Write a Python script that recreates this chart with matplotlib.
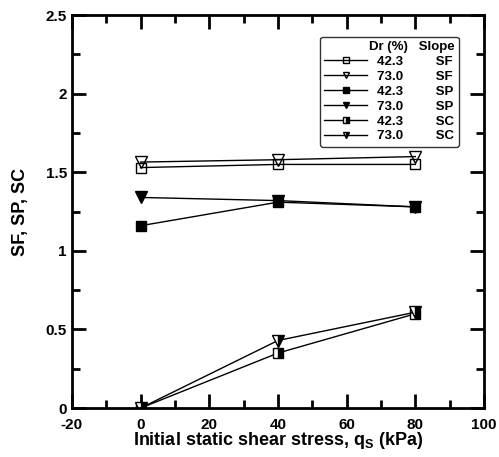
import matplotlib.pyplot as plt
from matplotlib.ticker import MultipleLocator

plt.rcParams['font.family'] = ['Liberation Sans', 'DejaVu Sans']
plt.rcParams['font.weight'] = 'bold'
plt.rcParams['axes.unicode_minus'] = False
plt.rcParams['mathtext.fontset'] = 'custom'
plt.rcParams['mathtext.rm'] = 'Liberation Sans:bold'
plt.rcParams['mathtext.bf'] = 'Liberation Sans:bold'

qs = [0, 40, 80]
dr = ['42.3', '73.0', '42.3', '73.0', '42.3', '73.0']
slope = ['SF', 'SF', 'SP', 'SP', 'SC', 'SC']
sf_423 = [1.53, 1.55, 1.55]
sf_730 = [1.565, 1.58, 1.60]
sp_423 = [1.16, 1.31, 1.28]
sp_730 = [1.34, 1.32, 1.28]
sc_423 = [0.0, 0.35, 0.60]
sc_730 = [0.0, 0.43, 0.61]

series = [sf_423, sf_730, sp_423, sp_730, sc_423, sc_730]
markers = ['s', 'v', 's', 'v', 's', 'v']
fills = ['none', 'none', 'full', 'full', 'right', 'right']

fig = plt.figure(figsize=(4.99, 4.57), dpi=100)
ax = fig.add_axes([0.144, 0.107, 0.826, 0.860])

for vals, m, f, d, s in zip(series, markers, fills, dr, slope):
    ax.plot(qs, vals, color='black', lw=1.0, marker=m, ms=8 if m == 'v' else 7,
            fillstyle=f, markerfacecolor='black' if f != 'none' else 'white',
            markerfacecoloralt='white', markeredgecolor='black', markeredgewidth=1.0,
            label=f'{d}         {s}')

ax.set_xlim(-20, 100)
ax.set_ylim(0, 2.5)
ax.xaxis.set_major_locator(MultipleLocator(20))
ax.xaxis.set_minor_locator(MultipleLocator(10))
ax.yaxis.set_major_locator(MultipleLocator(0.5))
ax.yaxis.set_minor_locator(MultipleLocator(0.25))
ax.set_yticks([0, 0.5, 1, 1.5, 2, 2.5], ['0', '0.5', '1', '1.5', '2', '2.5'])
ax.tick_params(which='both', direction='in', top=True, right=True, labelsize=11)
ax.tick_params(which='major', length=10, width=2)
ax.tick_params(which='minor', length=6, width=2)
ax.tick_params(axis='x', pad=7)
for sp in ax.spines.values():
    sp.set_linewidth(2)

ax.set_xlabel(r'Initial static shear stress, q$_{\mathrm{S}}$ (kPa)', fontsize=13, fontweight='bold', labelpad=-1)
ax.set_ylabel('SF, SP, SC', fontsize=13, fontweight='bold', labelpad=12)

leg = ax.legend(loc='upper right', bbox_to_anchor=(0.955, 0.962), title='Dr (%)   Slope',
                fontsize=9.5, title_fontproperties={'weight': 'bold', 'size': 9.5},
                frameon=True, fancybox=True, edgecolor='black', handlelength=3.2,
                labelspacing=0.2, borderpad=0.35, markerscale=0.6, handletextpad=0.8)
leg._legend_box.align = 'right'
leg.get_frame().set_linewidth(1.0)

fig.savefig('out.png', dpi=100)
